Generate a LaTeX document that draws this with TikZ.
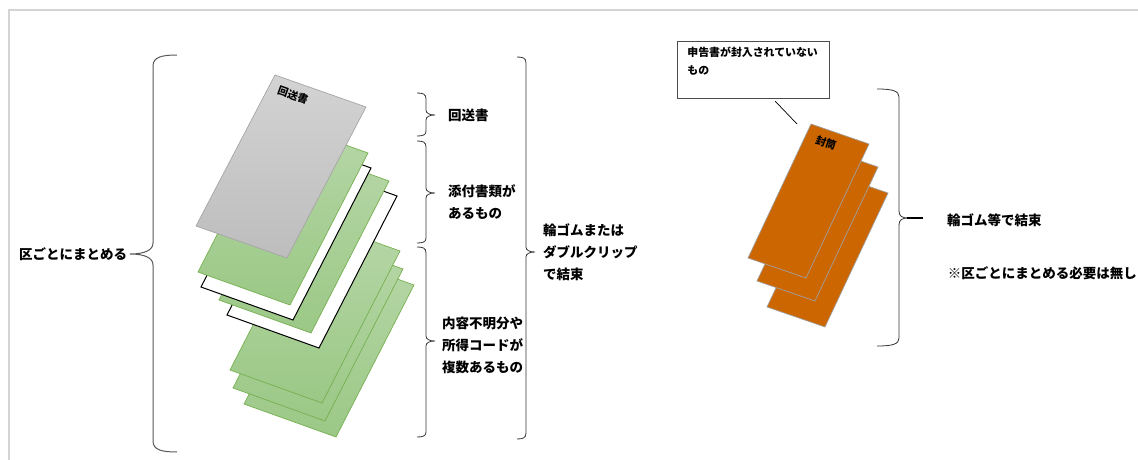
\documentclass[tikz,border=0pt]{standalone}
\usepackage{fontspec}
\setmainfont{Noto Sans CJK JP}
\usepackage{tikz}
\definecolor{greenlt}{RGB}{183,215,168}
\definecolor{greendk}{RGB}{155,200,134}
\definecolor{greenedge}{RGB}{118,176,80}
\definecolor{graylt}{RGB}{211,211,211}
\definecolor{graydk}{RGB}{189,189,189}
\definecolor{grayedge}{RGB}{165,165,165}
\definecolor{envorange}{RGB}{204,102,0}
\definecolor{envedge}{RGB}{160,160,160}
\definecolor{framegray}{RGB}{212,212,212}

\begin{document}
\begin{tikzpicture}[x=1pt, y=-1pt,
    greensheet/.style={draw=greenedge, line width=0.7pt, top color=greenlt, bottom color=greendk},
    graysheet/.style={draw=grayedge, line width=0.7pt, top color=graylt, bottom color=graydk},
    blanksheet/.style={draw=black, line width=1pt, fill=white},
    envelope/.style={draw=envedge, line width=0.7pt, fill=envorange},
    brk/.style={draw=black!80, line width=0.8pt},
    bigbrk/.style={draw=black!65, line width=1pt},
    lbl/.style={anchor=west, inner sep=0pt, align=left, font=\fontsize{13.5pt}{22pt}\selectfont\bfseries},
    tag/.style={inner sep=0pt, font=\fontsize{10.5pt}{12pt}\selectfont\bfseries}
]
    \useasboundingbox (0,0) rectangle (1138,460);
    % frame lines
    \draw[framegray, line width=1.5pt] (9,460) -- (9,10) -- (1138,10);

    % stack of sheets, back to front
    \draw[greensheet] (244,404) -- ++(92,33) -- ++(78,-152) -- ++(-92,-33) -- cycle;
    \draw[greensheet] (233,388) -- ++(92,33) -- ++(78,-152) -- ++(-92,-33) -- cycle;
    \draw[greensheet] (230,370) -- ++(92,33) -- ++(78,-152) -- ++(-92,-33) -- cycle;
    \draw[blanksheet] (227,315) -- ++(92,33) -- ++(78,-152) -- ++(-92,-33) -- cycle;
    \draw[greensheet] (219,300) -- ++(92,33) -- ++(78,-152) -- ++(-92,-33) -- cycle;
    \draw[blanksheet] (201,287) -- ++(92,33) -- ++(78,-152) -- ++(-92,-33) -- cycle;
    \draw[greensheet] (198,272) -- ++(92,33) -- ++(78,-152) -- ++(-92,-33) -- cycle;
    \draw[graysheet] (196,226) -- ++(91,32) -- ++(79,-151) -- ++(-91,-32) -- cycle;
    \node[tag, rotate=-19.4] (tagreturn) at (293,95) {回送書};

    % left brace
    \draw[bigbrk] (177,55) .. controls (162,55) and (153,57) .. (153,66)
        -- (153,243) .. controls (153,250) and (145,254) .. (130,254)
        .. controls (145,254) and (153,258) .. (153,265)
        -- (153,441) .. controls (153,450) and (162,452) .. (177,452);
    \node[lbl] (lblward) at (19,254) {区ごとにまとめる};

    % braces beside the stack
    \draw[brk] (417,93) .. controls (423,93) and (426,94) .. (426,99)
        -- (426,110) .. controls (426,113) and (429,115) .. (435,115)
        .. controls (429,115) and (426,117) .. (426,120)
        -- (426,131) .. controls (426,135) and (423,136) .. (417,136);
    \draw[brk] (417,141) .. controls (423,141) and (426,142) .. (426,147)
        -- (426,188) .. controls (426,191) and (429,193) .. (435,193)
        .. controls (429,193) and (426,195) .. (426,198)
        -- (426,238) .. controls (426,242) and (423,243) .. (417,243);
    \draw[brk] (417,247) .. controls (423,247) and (426,248) .. (426,253)
        -- (426,336) .. controls (426,339) and (429,341) .. (435,341)
        .. controls (429,341) and (426,343) .. (426,346)
        -- (426,432) .. controls (426,436) and (423,437) .. (417,437);
    \draw[brk] (517,57) .. controls (523,57) and (526,58) .. (526,63)
        -- (526,247) .. controls (526,250) and (529,252) .. (535,252)
        .. controls (529,252) and (526,254) .. (526,257)
        -- (526,433) .. controls (526,438) and (523,439) .. (517,439);

    \node[lbl] (lblreturn) at (448,115) {回送書};
    \node[lbl] (lblattach) at (448,202) {添付書類が\\あるもの};
    \node[lbl] (lblunclear) at (442,345) {内容不明分や\\所得コードが\\複数あるもの};
    \node[lbl] (lblbind) at (543,252) {輪ゴムまたは\\ダブルクリップ\\で結束};

    % envelopes
    \draw[envelope] (767,307) -- ++(58,20) -- ++(63,-134) -- ++(-58,-20) -- cycle;
    \draw[envelope] (757,281) -- ++(58,20) -- ++(63,-134) -- ++(-58,-20) -- cycle;
    \draw[envelope] (748,258) -- ++(58,20) -- ++(63,-134) -- ++(-58,-20) -- cycle;
    \node[tag, rotate=-19] (tagenvelope) at (826,143) {封筒};

    \node[draw=black!70, line width=0.8pt, anchor=north west, inner xsep=10pt, inner ysep=6pt,
          font=\fontsize{10.9pt}{18pt}\selectfont\bfseries] (callout) at (677,41)
        {\parbox[t][45pt][t]{132pt}{申告書が封入されていない\\もの}};
    \coordinate (calltail) at (775,101);
    \coordinate (calltip) at (797,124);
    \draw[black, line width=0.7pt] (calltail) -- (calltip);

    \draw[brk] (877,89) .. controls (893,89) and (899,91) .. (899,97)
        -- (899,211) .. controls (899,216) and (902,218) .. (908,218)
        .. controls (902,218) and (899,220) .. (899,225)
        -- (899,338) .. controls (899,344) and (893,346) .. (877,346);
    \draw[black, line width=1.4pt] (907,218) -- (923,218);

    \node[lbl] (lblrubber) at (947,220) {輪ゴム等で結束};
    \node[lbl, anchor=east] (lblnote) at (1137,273) {※区ごとにまとめる必要は無し};
\end{tikzpicture}
\end{document}
